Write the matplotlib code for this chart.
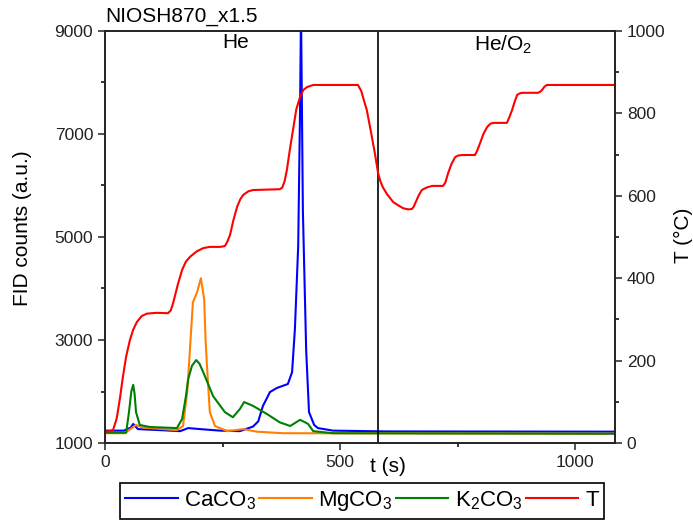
import numpy as np
import matplotlib.pyplot as plt
from matplotlib.ticker import MultipleLocator

plt.rcParams["font.family"] = ["Liberation Sans", "DejaVu Sans"]
plt.rcParams["mathtext.fontset"] = "custom"
plt.rcParams["mathtext.rm"] = "Liberation Sans"
plt.rcParams["mathtext.it"] = "Liberation Sans:italic"

# FID traces (time in s, counts in a.u.)
t_ca = [0, 40, 55, 60, 70, 117, 160, 177, 202, 245, 287, 315, 326, 336, 351, 366, 389,
        398, 404, 411, 415, 417, 421, 428, 434, 445, 453, 485, 600, 1085]
fid_ca = [1240, 1240, 1300, 1370, 1270, 1250, 1230, 1290, 1270, 1240, 1230, 1320, 1420,
          1720, 1990, 2070, 2145, 2375, 3210, 4820, 7500, 9400, 5500, 2800, 1600, 1350,
          1290, 1240, 1225, 1220]

t_mg = [0, 42, 57, 66, 81, 153, 166, 175, 179, 187, 196, 204, 211, 214, 217, 223, 234,
        260, 294, 323, 379, 1085]
fid_mg = [1190, 1190, 1290, 1350, 1300, 1250, 1330, 2000, 2570, 3730, 3930, 4200, 3790,
          3000, 2490, 1600, 1330, 1230, 1270, 1220, 1190, 1180]

t_k = [0, 45, 51, 56, 60, 63, 66, 74, 96, 153, 164, 172, 177, 185, 194, 201, 209, 230,
       255, 272, 287, 296, 315, 345, 372, 394, 415, 426, 432, 443, 485, 1085]
fid_k = [1200, 1200, 1600, 2000, 2130, 1950, 1600, 1350, 1310, 1290, 1465, 1900, 2240,
         2500, 2610, 2540, 2375, 1910, 1600, 1500, 1660, 1795, 1720, 1560, 1400, 1330,
         1450, 1400, 1370, 1230, 1190, 1180]

# oven temperature (°C)
t_temp = [0, 17, 25, 32, 38, 45, 53, 60, 68, 78, 89, 110, 134, 140, 145, 155, 164, 172,
          181, 195, 209, 223, 245, 255, 260, 266, 273, 281, 288, 294, 305, 315, 372, 377,
          382, 387, 393, 400, 407, 415, 422, 430, 443, 538, 545, 550, 557, 565, 574, 581,
          586, 591, 600, 613, 625, 634, 645, 653, 657, 660, 667, 674, 684, 696, 719, 724,
          730, 737, 745, 752, 762, 787, 792, 798, 805, 813, 820, 826, 855, 860, 866, 872,
          877, 883, 889, 921, 925, 930, 935, 940, 1085]
temp = [27, 31, 60, 110, 160, 210, 250, 275, 294, 308, 314, 316, 315, 322, 340, 385, 420,
        440, 452, 465, 473, 476, 476, 478, 488, 505, 540, 573, 592, 602, 611, 614, 616, 620,
        635, 663, 710, 760, 810, 840, 857, 864, 869, 869, 855, 835, 808, 760, 704, 655,
        635, 621, 604, 585, 576, 570, 567, 568, 574, 582, 600, 614, 620, 624, 624, 632,
        655, 677, 694, 698, 699, 699, 710, 728, 750, 767, 775, 777, 777, 790, 808, 830,
        845, 849, 850, 850, 852, 857, 865, 869, 869]

t_switch = 581
fid_ticks = [1000, 3000, 5000, 7000, 9000]

W, H = 693, 531
x0, x1, y0, y1 = 105, 615, 443, 31   # axes box in pixels

fig = plt.figure(figsize=(W / 100, H / 100), dpi=100)
ax = fig.add_axes([x0 / W, (H - y0) / H, (x1 - x0) / W, (y0 - y1) / H])
ax2 = ax.twinx()


def ax_xy(px, py):
    return (px - x0) / (x1 - x0), (y0 - py) / (y0 - y1)


l1, = ax.plot(t_ca, fid_ca, color="#0000FF", lw=1.5, label="CaCO$_3$")
l2, = ax.plot(t_mg, fid_mg, color="#FF8000", lw=1.5, label="MgCO$_3$")
l3, = ax.plot(t_k, fid_k, color="#008000", lw=1.5, label="K$_2$CO$_3$")
l4, = ax2.plot(t_temp, temp, color="#FF0000", lw=1.5, label="T")
ax.axvline(t_switch, color="black", lw=1.2)

ax.set_xlim(0, 1085)
ax.set_ylim(1000, 9000)
ax2.set_ylim(0, 1000)

ax.xaxis.set_major_locator(MultipleLocator(500))
ax.xaxis.set_minor_locator(MultipleLocator(250))
ax.set_yticks(fid_ticks)
ax.yaxis.set_minor_locator(MultipleLocator(1000))
ax2.yaxis.set_major_locator(MultipleLocator(200))
ax2.yaxis.set_minor_locator(MultipleLocator(100))

for a in (ax, ax2):
    a.tick_params(which="major", direction="out", length=5, width=1.1,
                  labelsize=12.5, colors="#222222", labelcolor="#222222")
    a.tick_params(which="minor", direction="out", length=3, width=1.1)
    for s in a.spines.values():
        s.set_linewidth(1.2)
        s.set_color("#222222")

lab = dict(transform=ax.transAxes, ha="center", va="center", fontsize=15)
ax.text(*ax_xy(23, 228), "FID counts (a.u.)", rotation=90, **lab)
ax.text(*ax_xy(683, 235), "T (°C)", rotation=90, **lab)
ax.text(*ax_xy(388, 467), "t (s)", **lab)
ax.text(*ax_xy(236, 43), "He", **lab)
ax.text(*ax_xy(503, 45), "He/O$_2$", **lab)
ax.text(0, 1.012, "NIOSH870_x1.5", transform=ax.transAxes, ha="left", va="bottom",
        fontsize=15)

leg = fig.legend(handles=[l1, l2, l3, l4], loc="center", ncol=4,
                 bbox_to_anchor=(362 / W, 1 - 501 / H), fontsize=16,
                 handlelength=2.35, handletextpad=0.3, columnspacing=0.15,
                 borderpad=0.25, borderaxespad=0, fancybox=False,
                 edgecolor="black", framealpha=1)
leg.get_frame().set_linewidth(1.2)

fig.savefig("out.png", dpi=100)
